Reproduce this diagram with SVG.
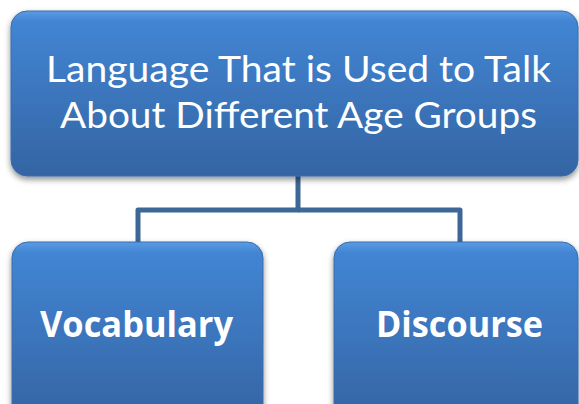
<svg xmlns="http://www.w3.org/2000/svg" width="579" height="404" viewBox="0 0 579 404">
  <defs>
    <linearGradient id="boxFill" x1="0" y1="0" x2="0" y2="1">
      <stop offset="0" stop-color="#5a9be3"/>
      <stop offset="0.06" stop-color="#4285d3"/>
      <stop offset="1" stop-color="#3464a3"/>
    </linearGradient>
    <filter id="drop" x="-10%" y="-10%" width="120%" height="130%">
      <feGaussianBlur in="SourceAlpha" stdDeviation="3"/>
      <feOffset dy="3" result="b"/>
      <feComponentTransfer><feFuncA type="linear" slope="0.45"/></feComponentTransfer>
      <feMerge><feMergeNode/><feMergeNode in="SourceGraphic"/></feMerge>
    </filter>
    <style>
      .box { fill: url(#boxFill); stroke: #3a6cae; stroke-width: 1; filter: url(#drop); }
      .edge { fill: none; stroke: #3d6796; stroke-width: 5; stroke-linejoin: round; }
      .title { font-family: Lato, "Open Sans", sans-serif; font-size: 37px; fill: #ffffff; }
      .label { font-family: "Open Sans", "Noto Sans", sans-serif; font-weight: bold; font-size: 36px; fill: #ffffff; }
    </style>
  </defs>

  <g id="connectors">
    <path class="edge" d="M298 176 V210 H138 V243"/>
    <path class="edge" d="M298 210 H460 V243"/>
  </g>

  <g id="root">
    <rect class="box" x="11" y="11" width="567" height="165" rx="16"/>
    <text class="title" x="46" y="82" textLength="505" lengthAdjust="spacingAndGlyphs">Language That is Used to Talk</text>
    <text class="title" x="60" y="128" textLength="477" lengthAdjust="spacingAndGlyphs">About Different Age Groups</text>
  </g>

  <g id="vocabulary">
    <rect class="box" x="12" y="242" width="251" height="180" rx="16"/>
    <text class="label" x="40" y="337" textLength="193" lengthAdjust="spacingAndGlyphs">Vocabulary</text>
  </g>

  <g id="discourse">
    <rect class="box" x="334" y="242" width="244" height="180" rx="16"/>
    <text class="label" x="376" y="337" textLength="167" lengthAdjust="spacingAndGlyphs">Discourse</text>
  </g>
</svg>
